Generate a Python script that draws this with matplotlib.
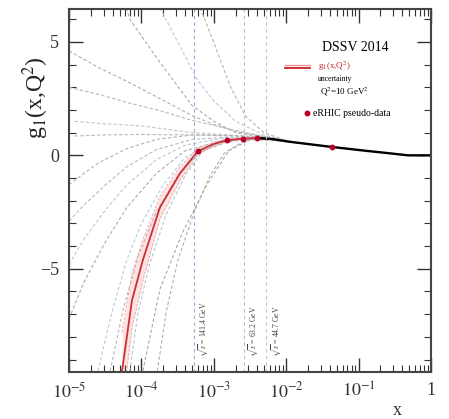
import numpy as np
import matplotlib
matplotlib.use("Agg")
import matplotlib.pyplot as plt
from matplotlib.ticker import MultipleLocator, LogLocator, FixedLocator, FixedFormatter, NullFormatter

plt.rcParams["font.family"] = ["Liberation Serif", "DejaVu Serif"]
plt.rcParams["mathtext.fontset"] = "stix"

# ===================== DATA =====================

# central DSSV14 fit and its uncertainty band
x_central = [5.4e-5, 7.4e-5, 1.05e-4, 1.8e-4, 3.4e-4, 6.0e-4, 1.0e-3, 1.5e-3,
             2.5e-3, 4.0e-3, 6.3e-3, 1.1e-2, 4.0e-2, 0.126, 0.25, 0.48, 1.0]
g_central = [-9.5, -6.4, -4.6, -2.3, -0.8, 0.18, 0.5, 0.66,
             0.74, 0.76, 0.72, 0.6, 0.38, 0.2, 0.1, 0.0, 0.0]
g_band_hi = [-7.8, -5.2, -3.7, -1.8, -0.5, 0.32, 0.58, 0.71,
             0.77, 0.78, 0.74, 0.62, 0.39, 0.21, 0.1, 0.0, 0.0]
g_band_lo = [-11.2, -7.6, -5.5, -2.8, -1.1, 0.04, 0.42, 0.61,
             0.71, 0.74, 0.70, 0.58, 0.37, 0.19, 0.1, 0.0, 0.0]

# replicas that rise at small x
rep_up_x = [
    [6.5e-4, 1.05e-3, 1.66e-3, 2.7e-3, 4.9e-3, 1e-2],
    [6.2e-5, 6.9e-5, 1.8e-4, 5e-4, 1e-3, 2e-3, 4.9e-3, 1e-2],
    [1.8e-4, 6e-4, 1e-3, 2e-3, 4.9e-3, 1e-2],
    [1e-5, 2.6e-5, 6.9e-5, 1.8e-4, 5e-4, 1e-3, 2e-3, 4.9e-3, 1e-2],
    [1e-5, 2.6e-5, 6.9e-5, 1.8e-4, 5e-4, 2e-3, 4.9e-3, 1e-2],
    [1.2e-5, 2.8e-5, 1e-4, 5e-4, 2e-3, 4.9e-3, 1e-2],
    [1.2e-5, 3e-5, 1e-4, 5e-4, 2e-3, 1e-2],
]
rep_up_g = [
    [6.5, 4.8, 3.1, 1.75, 1.0, 0.65],
    [6.5, 6.0, 4.1, 2.2, 1.5, 1.0, 0.8, 0.62],
    [6.5, 3.3, 2.4, 1.5, 0.9, 0.65],
    [4.6, 3.86, 3.2, 2.5, 1.75, 1.36, 1.05, 0.83, 0.65],
    [3.0, 2.68, 2.3, 1.97, 1.54, 1.1, 0.83, 0.65],
    [1.5, 1.4, 1.3, 1.0, 0.88, 0.8, 0.65],
    [0.85, 0.9, 0.92, 0.9, 0.85, 0.65],
]
rep_up_col = ["#b4b4b4", "#acacac", "#bcc8d4", "#b0b0b0", "#b8b8b8", "#d0bcc4", "#b8b8b8"]

# replicas that fall at small x
rep_dn_x = [
    [1e-5, 1.6e-5, 2.5e-5, 6.3e-5, 1.6e-4, 5e-4, 1.6e-3, 5e-3, 1e-2],
    [1e-5, 1.6e-5, 3.2e-5, 6.3e-5, 1.6e-4, 5e-4, 1.6e-3, 5e-3, 1e-2],
    [1e-5, 1.6e-5, 3.2e-5, 6.3e-5, 1.6e-4, 4e-4, 1.3e-3, 5e-3, 1e-2],
    [1e-5, 1.6e-5, 3.2e-5, 6.3e-5, 1.6e-4, 4e-4, 1.3e-3, 5e-3, 1e-2],
    [2.5e-5, 4e-5, 6.3e-5, 1e-4, 2e-4, 4e-4, 1e-3, 3.2e-3, 1e-2],
    [3.7e-5, 5.6e-5, 8.9e-5, 1.6e-4, 3.2e-4, 6.3e-4, 1.6e-3, 5e-3, 1e-2],
    [6.9e-5, 9e-5, 1.3e-4, 2.2e-4, 4e-4, 7e-4, 1.5e-3, 4e-3, 1e-2],
    [1.05e-4, 1.8e-4, 3.7e-4, 8e-4, 1.6e-3, 3.2e-3, 1e-2],
    [1.66e-4, 2.2e-4, 3.2e-4, 5.5e-4, 8.9e-4, 1.4e-3, 2.5e-3, 5e-3, 1e-2],
]
rep_dn_g = [
    [-1.3, -0.8, -0.35, 0.3, 0.7, 0.9, 0.88, 0.8, 0.65],
    [-2.9, -2.2, -1.3, -0.5, 0.25, 0.7, 0.8, 0.78, 0.63],
    [-4.8, -3.7, -2.4, -1.3, -0.2, 0.45, 0.75, 0.78, 0.63],
    [-7.2, -5.6, -3.8, -2.3, -0.8, 0.2, 0.65, 0.78, 0.63],
    [-9.5, -6.8, -4.6, -3.0, -1.3, -0.1, 0.55, 0.78, 0.63],
    [-9.5, -6.8, -4.5, -2.5, -0.9, 0.15, 0.6, 0.78, 0.63],
    [-9.5, -6.9, -4.8, -2.6, -0.9, 0.2, 0.62, 0.76, 0.62],
    [-9.5, -5.9, -3.4, -1.3, 0.2, 0.7, 0.62],
    [-9.5, -6.9, -4.6, -2.4, -0.9, 0.1, 0.6, 0.78, 0.62],
]
rep_dn_col = ["#b4b4b4", "#b8b8b8", "#b4ccd8", "#acacac", "#aed0dc",
              "#b8b8b8", "#a8cad8", "#a8a8a8", "#b0b0b0"]

# eRHIC pseudo-data
x_data = [6.0e-4, 1.5e-3, 2.5e-3, 4.0e-3, 4.3e-2]
g_data = [0.18, 0.66, 0.74, 0.76, 0.38]

# kinematic limits for the three collider energies
x_limits = [5.3e-4, 2.6e-3, 5.3e-3]
limit_labels = [r"$\sqrt{s}$ = 141.4 GeV", r"$\sqrt{s}$ = 63.2 GeV", r"$\sqrt{s}$ = 44.7 GeV"]
limit_cols = ["#a4a4dc", "#b0bcd8", "#b0c8dc"]

x_ticks = [1e-5, 1e-4, 1e-3, 1e-2, 1e-1, 1]
x_ticklabels = [r"$10^{-5}$", r"$10^{-4}$", r"$10^{-3}$", r"$10^{-2}$", r"$10^{-1}$", "1"]

# ===================== PLOT =====================

fig = plt.figure(figsize=(4.49, 4.19), dpi=100)
ax = fig.add_axes([0.1537, 0.1122, 0.8063, 0.8663])

dash = (0, (3, 2))
for xs, gs, c in zip(rep_up_x, rep_up_g, rep_up_col):
    ax.plot(xs, gs, color=c, lw=0.8, ls=dash)
for xs, gs, c in zip(rep_dn_x, rep_dn_g, rep_dn_col):
    ax.plot(xs, gs, color=c, lw=0.8, ls=dash)

ax.fill_between(x_central, g_band_lo, g_band_hi, color="#ffe2e2", lw=0)
ax.plot(x_central, g_band_hi, color="#eea0a0", lw=0.6, ls=dash)
ax.plot(x_central, g_band_lo, color="#eea0a0", lw=0.6, ls=dash)
ax.plot(x_central[:11], g_central[:11], color="#c8303a", lw=1.3)
ax.plot(x_central[9:], g_central[9:], color="black", lw=1.7)

ax.plot(x_data, g_data, "o", color="#b8002a", ms=3.2, zorder=5)

for xv, lab, c in zip(x_limits, limit_labels, limit_cols):
    ax.axvline(xv, color=c, lw=0.8, ls=(0, (3, 3)))
    ax.text(xv * 1.1, -8.9, lab, rotation=90, ha="left", va="bottom",
            fontsize=5.5, color="#444444")

ax.set_xscale("log")
ax.set_xlim(1e-5, 1)
ax.set_ylim(-9.55, 6.45)

ax.xaxis.set_major_locator(FixedLocator(x_ticks))
ax.xaxis.set_major_formatter(FixedFormatter(x_ticklabels))
ax.xaxis.set_minor_locator(LogLocator(base=10, subs=np.arange(2, 10), numticks=20))
ax.xaxis.set_minor_formatter(NullFormatter())
ax.yaxis.set_major_locator(MultipleLocator(5))
ax.yaxis.set_minor_locator(MultipleLocator(1))

ax.tick_params(which="both", direction="in", top=True, right=True, color="#333333")
ax.tick_params(which="major", length=10, width=1.0, labelsize=13, pad=7,
               labelcolor="#333333")
ax.tick_params(which="minor", length=5, width=0.8)
for s in ax.spines.values():
    s.set_linewidth(1.5)
    s.set_color("#444444")

ax.text(-0.092, 0.755, r"g$_1$(x,Q$^2$)", transform=ax.transAxes, rotation=90,
        ha="center", va="center", fontsize=17, color="#222222")
ax.text(0.906, -0.105, "x", transform=ax.transAxes, ha="center", va="center",
        fontsize=13, color="#333333")

# legend block
ax.text(0.699, 0.895, "DSSV 2014", transform=ax.transAxes, fontsize=10, va="center")
ax.plot([0.597, 0.666], [0.845, 0.845], transform=ax.transAxes, color="#f09090", lw=1.0)
ax.plot([0.597, 0.666], [0.838, 0.838], transform=ax.transAxes, color="#c8202a", lw=1.3)
ax.text(0.688, 0.843, r"g$_1$(x,Q$^2$)", transform=ax.transAxes, fontsize=6.5,
        color="#c8202a", va="center")
ax.text(0.688, 0.806, "uncertainty", transform=ax.transAxes, fontsize=5.5, va="center")
ax.text(0.693, 0.771, r"Q$^2$=10 GeV$^2$", transform=ax.transAxes, fontsize=6.5, va="center")
ax.plot([0.657], [0.713], "o", transform=ax.transAxes, color="#b8002a", ms=3.2)
ax.text(0.674, 0.713, "eRHIC pseudo-data", transform=ax.transAxes, fontsize=7, va="center")

fig.savefig("out.png", dpi=100)
